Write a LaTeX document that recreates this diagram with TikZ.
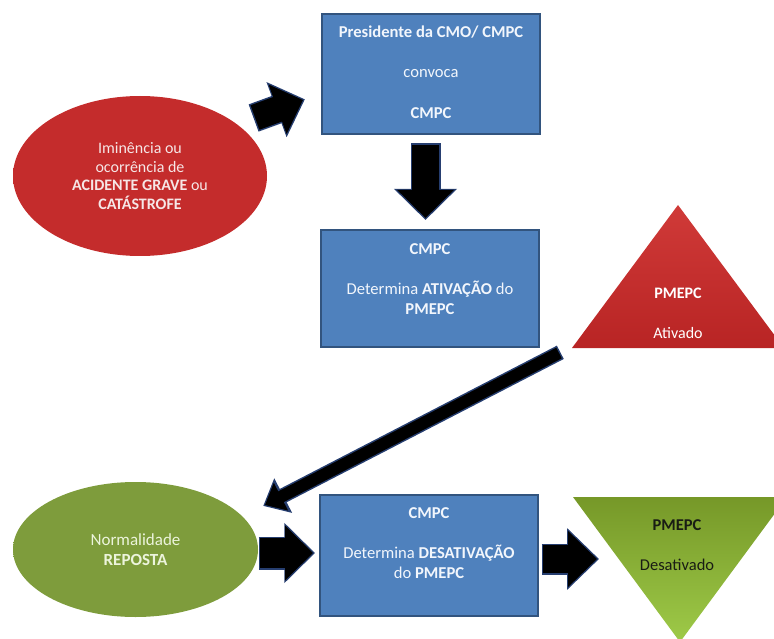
\documentclass[tikz,border=0pt]{standalone}
\usepackage{fontspec}
\setmainfont{Carlito}
\usetikzlibrary{shapes.geometric,arrows.meta,calc}

\definecolor{boxfill}{RGB}{79,129,189}
\definecolor{boxedge}{RGB}{50,84,126}
\definecolor{boxtext}{RGB}{242,246,252}
\definecolor{redin}{RGB}{196,44,44}
\definecolor{redout}{RGB}{148,22,24}
\definecolor{redtext}{RGB}{246,230,230}
\definecolor{greenin}{RGB}{126,156,60}
\definecolor{greenout}{RGB}{90,118,34}
\definecolor{redtop}{RGB}{208,58,56}
\definecolor{redbot}{RGB}{184,36,36}
\definecolor{greentop}{RGB}{118,152,40}
\definecolor{greenbot}{RGB}{158,202,72}
\definecolor{arrowedge}{RGB}{38,62,112}

% soft oval fills: flat core, darker rim at the border
\pgfdeclareradialshading{redoval}{\pgfpoint{0bp}{0bp}}{color(0bp)=(redin); color(36bp)=(redin); color(50bp)=(redout)}
\pgfdeclareradialshading{greenoval}{\pgfpoint{0bp}{0bp}}{color(0bp)=(greenin); color(32bp)=(greenin); color(50bp)=(greenout)}

\tikzset{
  txt/.style={font=\fontsize{16.6}{19.5}\selectfont, align=center, inner sep=0pt},
  box/.style={draw=boxedge, line width=1.3pt, fill=boxfill, inner sep=0pt},
  boxtxt/.style={txt, text=boxtext},
  oval/.style={ellipse, inner sep=0pt, txt},
  % block arrow: #1 shaft width (pt), #2 head width factor, #3 head length factor
  blockarrow/.style n args={3}{draw=black, line width=#1pt,
    -{Triangle[width=0pt #2 0, length=0pt #3 0]},
    preaction={draw=arrowedge, line width=#1pt+3pt, shorten >=-2pt, shorten <=-1.5pt}}
}

\begin{document}
\begin{tikzpicture}[x=1pt,y=-1pt]
\useasboundingbox (0,0) rectangle (774,639);
\clip (0,0) rectangle (774,639);

% start: imminence or occurrence of a serious accident
\node[oval, shading=redoval, minimum width=254pt, minimum height=160pt, text=redtext,
      font=\fontsize{16}{18.5}\selectfont]
  (crisis) at (140,176) {Iminência ou\\ ocorrência de\\ \textbf{ACIDENTE GRAVE} ou\\ \textbf{CATÁSTROFE}};

% the president convenes the commission
\node[box, minimum width=218pt, minimum height=120pt] (convoke) at (431,74) {};
\node[boxtxt] (convoketxt) at (431,72) {\textbf{Presidente da CMO/ CMPC}\\[21pt] convoca\\[21pt] \textbf{CMPC}};

% the commission activates the plan
\node[box, minimum width=218pt, minimum height=117pt] (activate) at (430,288.5) {};
\node[boxtxt] (activatetxt) at (430,279) {\textbf{CMPC}\\[21pt] Determina \textbf{ATIVAÇÃO} do\\ \textbf{PMEPC}};

% plan active
\shade[top color=redtop, bottom color=redbot] (678,205) -- (784,348) -- (572,348) -- cycle;
\node[txt, text=white, font=\fontsize{16}{19.5}\selectfont] (activetxt) at (678,313.5) {\textbf{PMEPC}\\[21pt] Ativado};

% normality restored
\node[oval, shading=greenoval, minimum width=245pt, minimum height=135pt,
      text={rgb,255:red,236;green,244;blue,220}, font=\fontsize{17}{19.5}\selectfont]
  (normal) at (135.5,549.5) {Normalidade\\ \textbf{REPOSTA}};

% the commission deactivates the plan
\node[box, minimum width=218pt, minimum height=121pt] (deactivate) at (429,555.5) {};
\node[boxtxt] (deactivatetxt) at (429,543) {\textbf{CMPC}\\[21pt] Determina \textbf{DESATIVAÇÃO}\\ do \textbf{PMEPC}};

% plan inactive
\shade[top color=greentop, bottom color=greenbot] (573,497) -- (787,497) -- (680,642) -- cycle;
\node[txt, text={rgb,255:red,25;green,28;blue,20}, font=\fontsize{16.5}{19.5}\selectfont]
  (inactivetxt) at (677,545) {\textbf{PMEPC}\\[21pt] Desativado};

% connector end points
\coordinate (a1s) at (255,117.5);  \coordinate (a1e) at (303,100);
\coordinate (a2s) at (425.5,145);  \coordinate (a2e) at (425.5,218);
\coordinate (a3s) at (559,353);    \coordinate (a3e) at (265,505);
\coordinate (a4s) at (260,553);    \coordinate (a4e) at (313,553);
\coordinate (a5s) at (543,559);    \coordinate (a5e) at (597,559);

\draw[blockarrow={26}{1.96}{1.04}] (a1s) -- (a1e);
\draw[blockarrow={27}{2.04}{1.04}] (a2s) -- (a2e);
\draw[blockarrow={12}{2.5}{1.5}]   (a3s) -- (a3e);
\draw[blockarrow={30}{1.77}{0.93}] (a4s) -- (a4e);
\draw[blockarrow={28}{1.93}{1.03}] (a5s) -- (a5e);
\end{tikzpicture}
\end{document}
